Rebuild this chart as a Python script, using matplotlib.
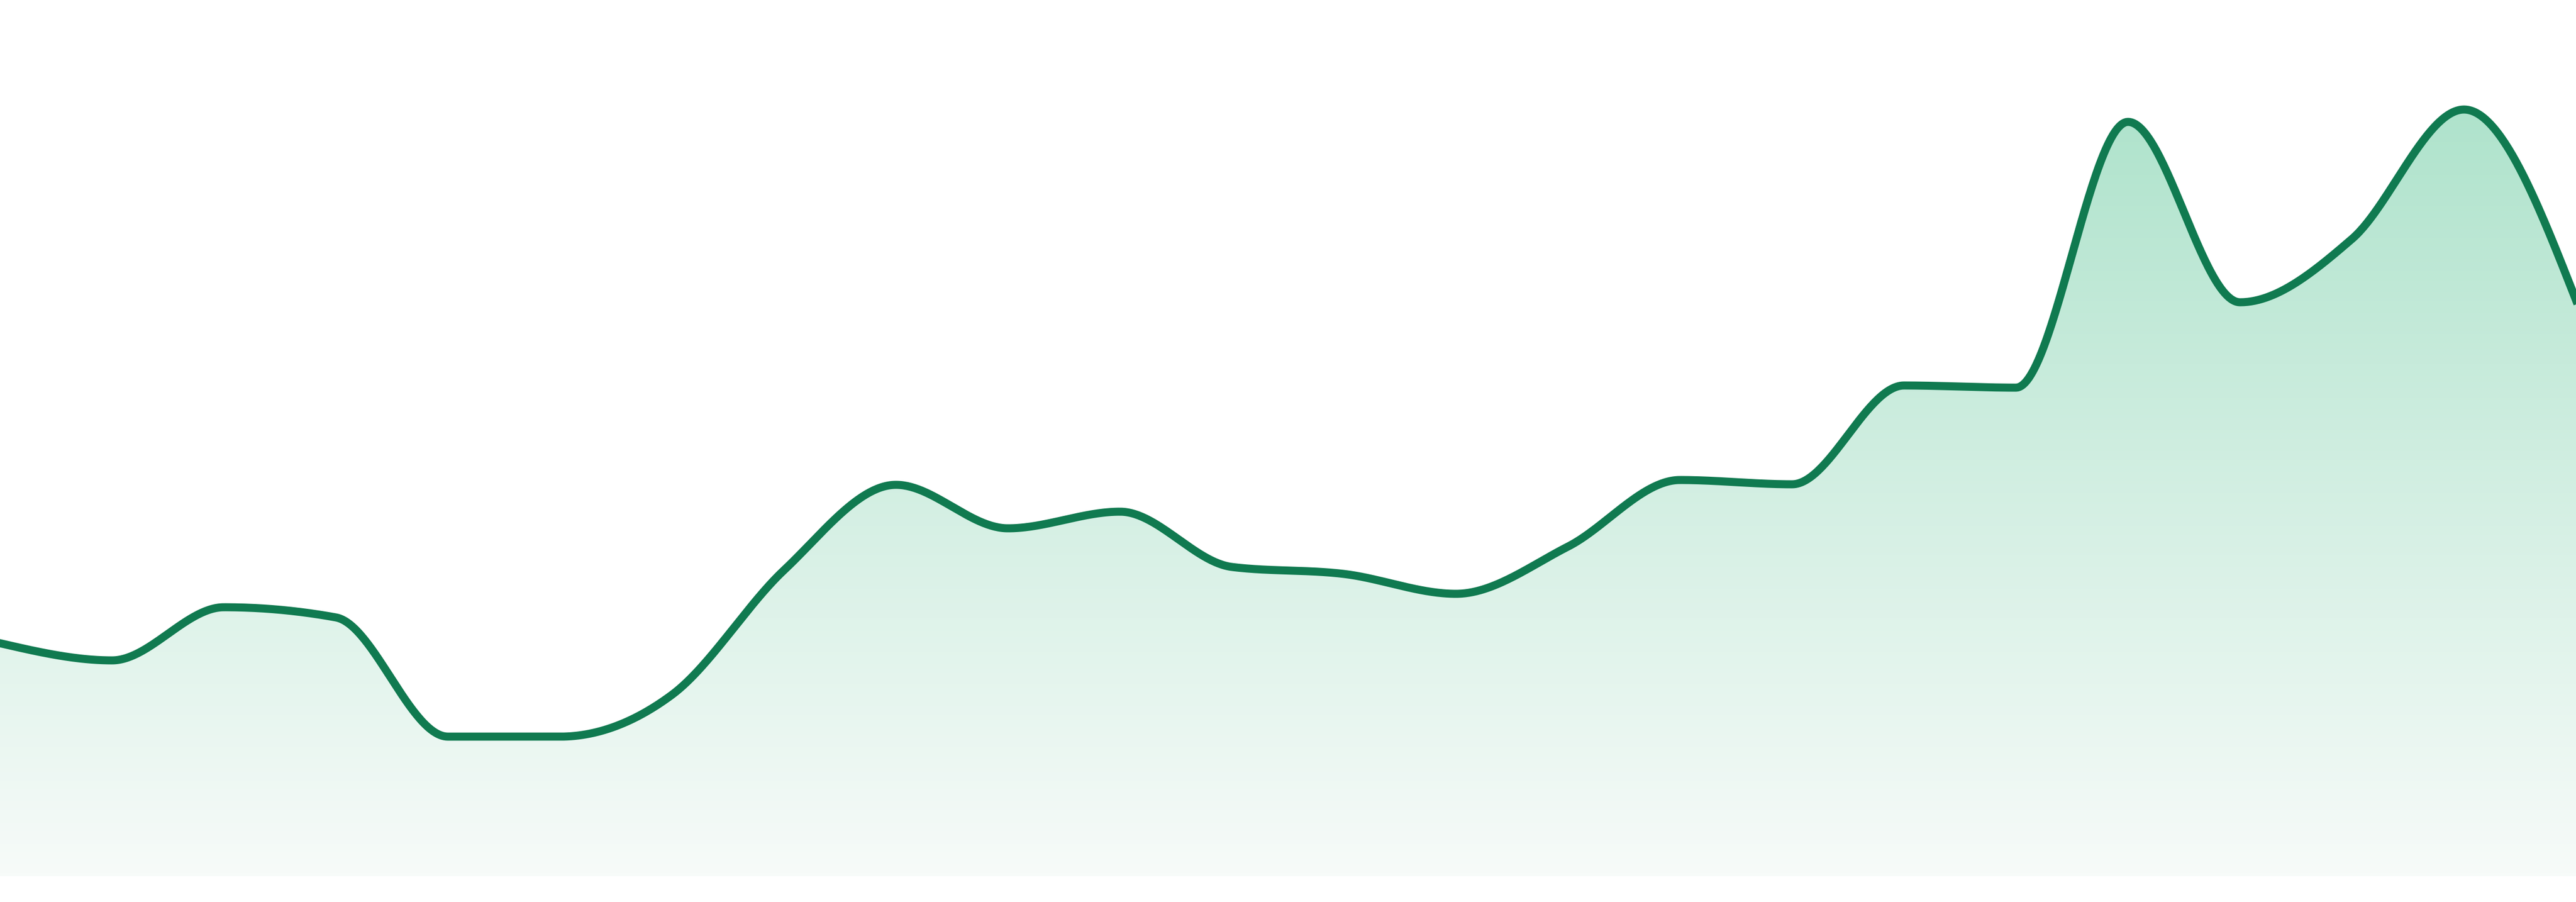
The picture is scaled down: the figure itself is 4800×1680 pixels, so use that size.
import numpy as np
import matplotlib
matplotlib.use('Agg')
import matplotlib.pyplot as plt
from matplotlib.colors import LinearSegmentedColormap
from matplotlib.patches import Polygon

# значения ряда (24 точки, равный шаг)
points = np.arange(24)
values = [43.4, 40.2, 50.1, 48.2, 26.0, 26.0, 33.8, 57.0, 72.9, 64.8, 67.9, 57.6,
          56.3, 52.6, 61.4, 73.8, 73.0, 91.4, 91.0, 140.5, 106.9, 118.7, 142.8, 107.3]

line_color = '#107a50'
top_color = '#afe3cc'
bottom_color = '#f7fbf9'


def monotone_x(x, y, n=60):
    # кривая как d3.curveMonotoneX
    x = np.asarray(x, float)
    y = np.asarray(y, float)
    h = np.diff(x)
    s = np.diff(y) / h
    t = np.zeros(len(x))
    for i in range(1, len(x) - 1):
        p = (s[i - 1] * h[i] + s[i] * h[i - 1]) / (h[i - 1] + h[i])
        sg = (1 if s[i - 1] >= 0 else -1) + (1 if s[i] >= 0 else -1)
        t[i] = sg * min(abs(s[i - 1]), abs(s[i]), 0.5 * abs(p))
    t[0] = (3 * s[0] - t[1]) / 2
    t[-1] = (3 * s[-1] - t[-2]) / 2
    xs, ys = [], []
    for i in range(len(x) - 1):
        u = np.linspace(0, 1, n, endpoint=False)
        h00 = 2 * u**3 - 3 * u**2 + 1
        h10 = u**3 - 2 * u**2 + u
        h01 = -2 * u**3 + 3 * u**2
        h11 = u**3 - u**2
        xs.append(x[i] + u * h[i])
        ys.append(h00 * y[i] + h10 * h[i] * t[i] + h01 * y[i + 1] + h11 * h[i] * t[i + 1])
    xs.append([x[-1]])
    ys.append([y[-1]])
    return np.concatenate(xs), np.concatenate(ys)


xs, ys = monotone_x(points, values)

fig = plt.figure(figsize=(48, 16.8), dpi=100)
ax = fig.add_axes([0, 0, 1, 1])
ax.set_xlim(points[0], points[-1])
ax.set_ylim(-4.8, 163.2)
ax.axis('off')

# градиентная заливка под линией
cmap = LinearSegmentedColormap.from_list('g', [bottom_color, top_color])
grad = np.linspace(0, 1, 256).reshape(-1, 1)
ymax = max(values)
img = ax.imshow(grad, cmap=cmap, aspect='auto', origin='lower',
                extent=[points[0], points[-1], 0, ymax], zorder=1)
poly = Polygon(np.column_stack([np.r_[xs, xs[-1], xs[0]], np.r_[ys, 0, 0]]),
               closed=True, facecolor='none', edgecolor='none')
ax.add_patch(poly)
img.set_clip_path(poly)

ax.plot(xs, ys, color=line_color, lw=10.8, solid_joinstyle='round', zorder=3)

fig.savefig('out.png', dpi=100, facecolor='white')
